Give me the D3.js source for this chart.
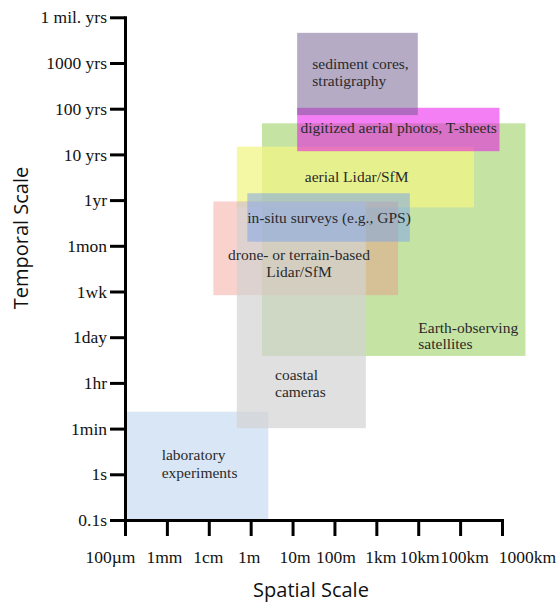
<!DOCTYPE html>
<html>
<head>
<meta charset="utf-8">
<script src="https://cdn.jsdelivr.net/npm/d3@7"></script>
</head>
<body style="margin:0;padding:0;background:#fff">
<svg id="chart" width="558" height="604" style="display:block"></svg>
<script>
// ---- data ----
const spatialTicks = ["100µm", "1mm", "1cm", "1m", "10m", "100m", "1km", "10km", "100km", "1000km"];
const temporalTicks = ["0.1s", "1s", "1min", "1hr", "1day", "1wk", "1mon", "1yr", "10 yrs", "100 yrs", "1000 yrs", "1 mil. yrs"];

// methods: name, spatial extent (tick index units), temporal extent (tick index units)
const methodNames = [
  "laboratory experiments",
  "Earth-observing satellites",
  "aerial Lidar/SfM",
  "drone- or terrain-based Lidar/SfM",
  "coastal cameras",
  "in-situ surveys (e.g., GPS)",
  "digitized aerial photos, T-sheets",
  "sediment cores, stratigraphy"
];
const spatialMin  = [0.00, 3.27, 2.67, 2.11, 2.67, 2.92, 4.11, 4.11];
const spatialMax  = [3.42, 9.56, 8.33, 6.52, 5.75, 6.80, 8.94, 6.99];
const temporalMin = [0.00, 3.59, 6.84, 4.92, 2.01, 6.09, 8.07, 8.86];
const temporalMax = [2.37, 8.68, 8.17, 6.97, 6.96, 7.15, 9.02, 10.66];

// ---- styles ----
const fills = [
  "rgba(180,205,235,0.5)",
  "rgba(150,205,90,0.55)",
  "rgba(240,245,133,0.75)",
  "rgba(240,140,130,0.4)",
  "rgba(211,211,211,0.7)",
  "rgba(130,165,230,0.55)",
  "rgba(233,0,233,0.5)",
  "rgba(107,87,139,0.5)"
];
const labelLines = [
  ["laboratory", "experiments"],
  ["Earth-observing", "satellites"],
  ["aerial Lidar/SfM"],
  ["drone- or terrain-based", "Lidar/SfM"],
  ["coastal", "cameras"],
  ["in-situ surveys (e.g., GPS)"],
  ["digitized aerial photos, T-sheets"],
  ["sediment cores,", "stratigraphy"]
];
const labelPos = [
  {x: 161.7, y: 460, a: "start", lh: 17.5},
  {x: 418.3, y: 333, a: "start", lh: 16},
  {x: 356.7, y: 181.5, a: "middle", lh: 17},
  {x: 299, y: 260, a: "middle", lh: 17},
  {x: 275, y: 379.5, a: "start", lh: 17.5},
  {x: 329, y: 223, a: "middle", lh: 17},
  {x: 300.5, y: 132.5, a: "start", lh: 17},
  {x: 312.3, y: 68.5, a: "start", lh: 17.5}
];
const xLabelNudge = [-15, -3, -1, -2, 2, 1, 4, 1, 4, 25];

const SERIF = '"Liberation Serif"';
const SANS = '"Open Sans"';

const svg = d3.select("#chart");
const x = d3.scaleLinear().domain([0, spatialTicks.length - 1]).range([125, 502]);
const y = d3.scaleLinear().domain([0, temporalTicks.length - 1]).range([520, 17.3]);

// rectangles
const data = methodNames.map((n, i) => ({
  name: n, x0: spatialMin[i], x1: spatialMax[i], y0: temporalMin[i], y1: temporalMax[i], i
}));
svg.append("g").selectAll("rect").data(data).join("rect")
  .attr("x", d => x(d.x0))
  .attr("y", d => y(d.y1))
  .attr("width", d => x(d.x1) - x(d.x0))
  .attr("height", d => y(d.y0) - y(d.y1))
  .attr("fill", d => fills[d.i]);

// labels
const lg = svg.append("g");
data.forEach(d => {
  const p = labelPos[d.i];
  const t = lg.append("text").attr("text-anchor", p.a)
    .style("font-family", SERIF).style("font-size", "15.5px").attr("fill", "#2a2a2a");
  labelLines[d.i].forEach((line, k) => {
    t.append("tspan").attr("x", p.x).attr("y", p.y + k * p.lh).text(line);
  });
});

// axes
const yAxis = d3.axisLeft(y)
  .tickValues(d3.range(temporalTicks.length))
  .tickFormat(i => temporalTicks[i])
  .tickSize(15).tickSizeOuter(0).tickPadding(3);
const gy = svg.append("g").attr("transform", "translate(125,0)").call(yAxis);

const xAxis = d3.axisBottom(x)
  .tickValues(d3.range(spatialTicks.length))
  .tickFormat(i => spatialTicks[i])
  .tickSize(16).tickSizeOuter(0).tickPadding(10);
const gx = svg.append("g").attr("transform", "translate(0,520)").call(xAxis);

[gy, gx].forEach(g => {
  g.select(".domain").attr("stroke", "#000").attr("stroke-width", 3).attr("stroke-linecap", "square");
  g.selectAll(".tick line").attr("stroke", "#000").attr("stroke-width", 3);
  g.selectAll(".tick text").style("font-family", SERIF).style("font-size", "17.5px").attr("fill", "#111");
});
gy.selectAll(".tick text").attr("dy", "0.32em");
gx.selectAll(".tick text").attr("dy", 0).attr("y", 43)
  .attr("dx", (d, i) => xLabelNudge[i]);

// axis titles
svg.append("text")
  .attr("transform", "translate(28,238) rotate(-90)")
  .attr("text-anchor", "middle")
  .style("font-family", SANS).style("font-size", "20px").attr("fill", "#111")
  .text("Temporal Scale");
svg.append("text")
  .attr("x", 311).attr("y", 597)
  .attr("text-anchor", "middle")
  .style("font-family", SANS).style("font-size", "20px").attr("fill", "#111")
  .text("Spatial Scale");
</script>
</body>
</html>
